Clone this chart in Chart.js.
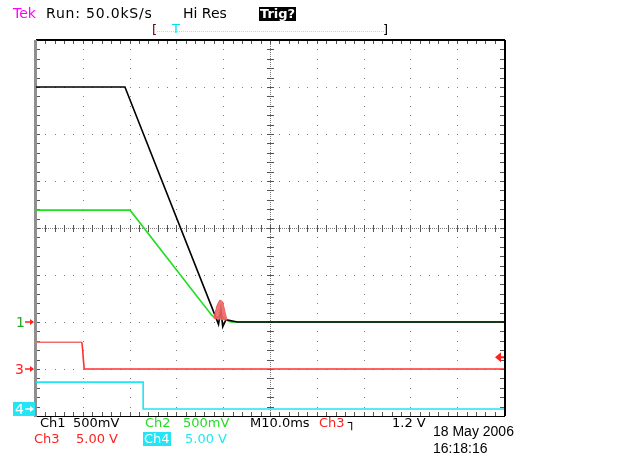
<!DOCTYPE html>
<html>
<head>
<meta charset="utf-8">
<script src="https://cdn.jsdelivr.net/npm/chart.js@4/dist/chart.umd.min.js"></script>
<style>
  html, body { margin: 0; padding: 0; background: #fff; }
  #wrap { position: relative; width: 617px; height: 456px; overflow: hidden; }
  canvas { position: absolute; left: 0; top: 0; }
  .t { position: absolute; font-family: "DejaVu Sans", sans-serif; font-size: 13px; line-height: 14px; white-space: pre; color: #000; }
  .d { position: absolute; font-family: "Liberation Sans", sans-serif; font-size: 14px; line-height: 16px; white-space: pre; color: #000; }
</style>
</head>
<body>
<div id="wrap">
  <canvas id="scope" width="617" height="456"></canvas>

  <div class="t" style="left:13px;top:6px;color:#ff00ff;font-size:14px">Tek</div>
  <div class="t" style="left:46px;top:6px;font-size:14px;letter-spacing:0.8px">Run: 50.0kS/s</div>
  <div class="t" style="left:183px;top:6px;font-size:14px">Hi Res</div>
  <div class="t" style="left:259px;top:7px;background:#000;color:#fff;font-weight:bold;padding:0 1px">Trig?</div>
  <div class="t" style="left:152px;top:23px;color:#600">[</div>
  <div class="t" style="left:383px;top:23px;color:#000">]</div>
  <div class="t" style="left:172px;top:22px;color:#00e0f0">T</div>

  <div class="t" style="left:40px;top:416px">Ch1</div>
  <div class="t" style="left:73px;top:416px">500mV</div>
  <div class="t" style="left:145px;top:416px;color:#22dd22">Ch2</div>
  <div class="t" style="left:183px;top:416px;color:#22dd22">500mV</div>
  <div class="t" style="left:250px;top:416px">M10.0ms</div>
  <div class="t" style="left:319px;top:416px;color:#ff2020">Ch3</div>
  <div class="t" style="left:348px;top:416px;font-weight:bold">&#x2510;</div>
  <div class="t" style="left:392px;top:416px">1.2 V</div>

  <div class="t" style="left:34px;top:432px;color:#ff2020">Ch3</div>
  <div class="t" style="left:76px;top:432px;color:#ff2020">5.00 V</div>
  <div class="t" style="left:143px;top:432px;background:#22e5f5;color:#fff;padding:0 1px">Ch4</div>
  <div class="t" style="left:185px;top:432px;color:#22e5f5">5.00 V</div>

  <div class="d" style="left:433px;top:423px">18 May 2006</div>
  <div class="d" style="left:433px;top:440px">16:18:16</div>
</div>
<script>
// time in ms (10 ms/div), level in divisions
const ch1Time = [-50, -31.0, -11.7, -11.0, -10.5, -10.1, -9.4, -7.0, 50];
const ch1Div  = [3.0, 3.0, -1.87, -2.05, -1.72, -2.1, -1.95, -2.0, -2.0];

const ch2Time = [-50, -29.9, -12.5, -11.5, -10.6, -9.6, -8.4, 50];
const ch2Div  = [0.38, 0.38, -1.85, -1.93, -1.85, -1.95, -2.0, -2.0];

const ch3Time = [-50, -40.2, -40.0, -39.9, -39.7, 50];
const ch3Div  = [-2.43, -2.43, -2.62, -2.78, -3.0, -3.0];

const ch4Time = [-50, -27.1, -27.1, 50];
const ch4Div  = [-3.28, -3.28, -3.85, -3.85];

// reddish blob near the end of the ramp
const blobTime = [-12.0, -11.3, -10.7, -10.1, -9.6, -9.2, -12.0];
const blobDiv  = [-1.92, -1.64, -1.53, -1.57, -1.79, -1.96, -1.92];

const groundLevels = { ch1: -2.0, ch3: -3.0, ch4: -3.85 };
const trigLevel = -2.75;

function pts(xs, ys) {
    return xs.map((x, i) => ({x: x, y: ys[i]}));
}

const scopeGrid = {
    id: 'scopeGrid',
    beforeDatasetsDraw(chart) {
        let ctx = chart.ctx;
        let xs = chart.scales.x, ys = chart.scales.y;
        let a = chart.chartArea;
        ctx.save();
        // dotted division lines
        ctx.fillStyle = '#7a7a7a';
        for (let i = -4; i <= 4; i++) {
            let py = Math.round(ys.getPixelForValue(i));
            for (let t = -50; t <= 50; t += 2) {
                ctx.fillRect(Math.round(xs.getPixelForValue(t)), py, 1, 1);
            }
        }
        for (let t = -50; t <= 50; t += 10) {
            let px = Math.round(xs.getPixelForValue(t));
            for (let v = -4; v <= 4.001; v += 0.2) {
                ctx.fillRect(px, Math.round(ys.getPixelForValue(v)), 1, 1);
            }
        }
        // centre cross, dense dots + small ticks
        let cx = Math.round(xs.getPixelForValue(0));
        let cy = Math.round(ys.getPixelForValue(0));
        for (let p = a.left; p <= a.right; p += 2) ctx.fillRect(p, cy, 1, 1);
        for (let p = a.top; p <= a.bottom; p += 2) ctx.fillRect(cx, p, 1, 1);
        ctx.fillStyle = '#555';
        for (let t = -50; t <= 50; t += 2) {
            let px = Math.round(xs.getPixelForValue(t));
            ctx.fillRect(px, cy - 3, 1, 7);
            ctx.fillRect(px, a.top, 1, 4);
            ctx.fillRect(px, a.bottom - 4, 1, 4);
        }
        for (let v = -4; v <= 4.001; v += 0.2) {
            let py = Math.round(ys.getPixelForValue(v));
            ctx.fillRect(cx - 3, py, 7, 1);
            ctx.fillRect(a.right - 4, py, 4, 1);
            ctx.fillRect(a.left, py, 4, 1);
        }
        // border
        ctx.fillStyle = '#000';
        ctx.fillRect(a.left, a.top - 1, a.right - a.left + 1, 2);
        ctx.fillRect(a.left, a.bottom, a.right - a.left + 1, 1);
        ctx.fillRect(a.right, a.top, 2, a.bottom - a.top);
        ctx.fillStyle = '#909090';
        ctx.fillRect(a.left - 2, a.top, 3, a.bottom - a.top + 1);
        // trigger window bar
        ctx.fillStyle = '#7ff0ff';
        for (let p = 157; p < 384; p += 2) ctx.fillRect(p, 31, 1, 1);
        ctx.restore();
    },
    afterDatasetsDraw(chart) {
        let ctx = chart.ctx;
        let ys = chart.scales.y;
        let a = chart.chartArea;
        ctx.save();
        ctx.font = '14px "DejaVu Sans", sans-serif';
        ctx.textBaseline = 'middle';
        // ground markers
        let y1 = ys.getPixelForValue(groundLevels.ch1);
        ctx.fillStyle = '#22aa22';
        ctx.fillText('1', 16, y1 + 1);
        let y3 = ys.getPixelForValue(groundLevels.ch3);
        ctx.fillStyle = '#ff2020';
        ctx.fillText('3', 15, y3 + 1);
        let y4 = ys.getPixelForValue(groundLevels.ch4);
        ctx.fillStyle = '#22e5f5';
        ctx.fillRect(13, y4 - 7, 22, 14);
        ctx.fillStyle = '#fff';
        ctx.fillText('4', 15, y4 + 1);
        let arrow = (y, col) => {
            ctx.strokeStyle = col;
            ctx.fillStyle = col;
            ctx.lineWidth = 1.5;
            ctx.beginPath();
            ctx.moveTo(25, y); ctx.lineTo(33, y); ctx.stroke();
            ctx.beginPath();
            ctx.moveTo(34, y); ctx.lineTo(30, y - 3); ctx.lineTo(30, y + 3); ctx.closePath(); ctx.fill();
        };
        arrow(y1, '#ff2020');
        arrow(y3, '#ff2020');
        arrow(y4, '#fff');
        // trigger level arrow on the right
        let yt = ys.getPixelForValue(trigLevel);
        ctx.fillStyle = '#ff2020';
        ctx.beginPath();
        ctx.moveTo(a.right - 9, yt); ctx.lineTo(a.right - 3, yt - 5); ctx.lineTo(a.right - 3, yt + 5); ctx.closePath(); ctx.fill();
        ctx.fillRect(a.right - 4, yt - 1, 4, 2);
        ctx.restore();
    }
};

new Chart(document.getElementById('scope'), {
    type: 'scatter',
    data: {
        datasets: [
            {label: 'blob', data: pts(blobTime, blobDiv), showLine: true, borderColor: '#f06060', backgroundColor: 'rgba(240,100,100,0.9)', fill: 'shape', borderWidth: 1, pointRadius: 0},
            {label: 'Ch4', data: pts(ch4Time, ch4Div), showLine: true, borderColor: '#22e5f5', borderWidth: 1.6, pointRadius: 0},
            {label: 'Ch3', data: pts(ch3Time, ch3Div), showLine: true, borderColor: '#ff3030', borderWidth: 1.6, pointRadius: 0,
                segment: {borderColor: ctx => ctx.p0DataIndex === 0 ? '#f07070' : '#ff3030'}},
            {label: 'Ch1', data: pts(ch1Time, ch1Div), showLine: true, borderColor: '#000', borderWidth: 1.6, pointRadius: 0},
            {label: 'Ch2', data: pts(ch2Time, ch2Div), showLine: true, borderColor: '#22dd22', borderWidth: 1.6, pointRadius: 0},
        ]
    },
    options: {
        responsive: false,
        animation: false,
        layout: {padding: {left: 36, right: 113, top: 40, bottom: 40}},
        plugins: {legend: {display: false}, tooltip: {enabled: false}},
        scales: {
            x: {type: 'linear', min: -50, max: 50, display: false},
            y: {type: 'linear', min: -4, max: 4, display: false}
        }
    },
    plugins: [scopeGrid]
});
</script>
</body>
</html>
